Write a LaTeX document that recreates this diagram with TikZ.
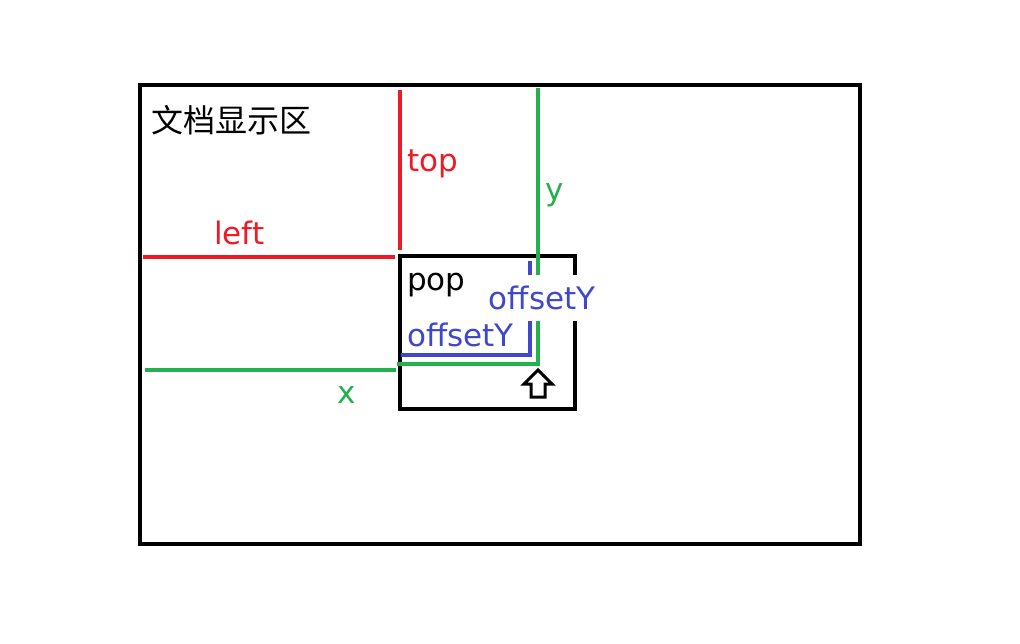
\documentclass[tikz,border=0pt]{standalone}
\usepackage{fontspec}
\setmainfont{DejaVu Sans}
\newfontfamily\cjk{Noto Sans CJK SC}
\usetikzlibrary{calc}
\definecolor{paintred}{RGB}{237,28,36}
\definecolor{paintgreen}{RGB}{34,177,76}
\definecolor{paintblue}{RGB}{63,72,204}
\tikzset{
  txt/.style={font=\fontsize{31}{34}\selectfont, inner sep=0pt, anchor=base west},
  thick line/.style={line width=4pt}
}
\begin{document}
\begin{tikzpicture}[x=1pt,y=-1pt]
  \useasboundingbox (0,0) rectangle (1020,644);

  % Document area
  \coordinate (D1) at (140,85);
  \coordinate (D2) at (860,544);
  \draw[thick line] (D1) rectangle (D2);

  % Pop box
  \coordinate (P1) at (400,256);
  \coordinate (P2) at (575,409);
  \draw[thick line] (P1) rectangle (P2);

  % left and top
  \coordinate (T1) at (400,90);
  \coordinate (T2) at (400,250);
  \coordinate (L1) at (143,257);
  \coordinate (L2) at (395,257);
  \draw[thick line, paintred] (T1) -- (T2);
  \draw[thick line, paintred] (L1) -- (L2);

  % x and y
  \coordinate (Y1) at (538,88);
  \coordinate (Y2) at (538,364);
  \coordinate (Y3) at (397,364);
  \coordinate (X1) at (145,370);
  \coordinate (X2) at (396,370);
  \draw[thick line, paintgreen] (Y1) -- (Y2) -- (Y3);
  \draw[thick line, paintgreen] (X1) -- (X2);

  % offsets
  \coordinate (O1) at (530,261);
  \coordinate (O2) at (530,355);
  \coordinate (O3) at (401,355);
  \draw[thick line, paintblue] (O1) -- (O2) -- (O3);

  % Arrow
  \coordinate (A) at (538,370);
  \draw[line width=3pt, line join=miter] (A) -- ++(-14,14) -- ++(7,0) -- ++(0,13)
    -- ++(14,0) -- ++(0,-13) -- ++(7,0) -- cycle;

  % Labels
  \node[txt, anchor=center, font=\cjk\fontsize{32}{34}\selectfont] (doc) at (231,120) {文档显示区};
  \node[txt, paintred] (top) at (407,172) {top};
  \node[txt, paintred] (left) at (214,245) {left};
  \node[txt, paintgreen] (ylab) at (545,201) {y};
  \node[txt] (pop) at (407,291) {pop};
  \node[txt, paintblue, anchor=base, fill=white, text height=30pt, text depth=6pt,
        inner ysep=5pt, inner xsep=1pt] (offy) at (542,310) {offsetY};
  \node[txt, paintblue] (offx) at (407,346) {offsetY};
  \node[txt, paintgreen] (xlab) at (337,403) {x};
\end{tikzpicture}
\end{document}
